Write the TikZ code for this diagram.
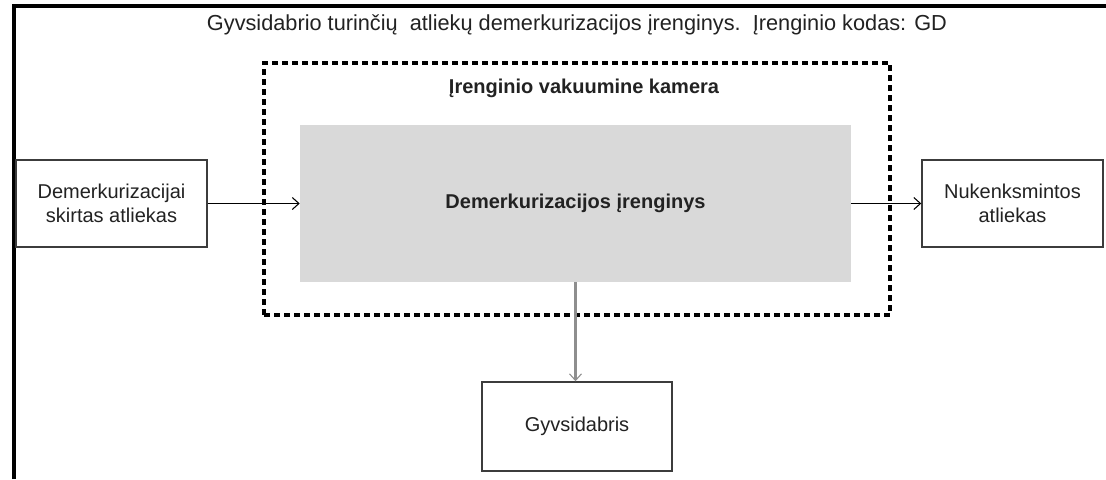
\documentclass[tikz,border=0pt]{standalone}
\usepackage{fontspec}
\setmainfont{Liberation Sans}
\usetikzlibrary{arrows.meta}
\definecolor{txt}{HTML}{222222}
\definecolor{edge}{HTML}{3C3C3C}
\definecolor{fillgray}{HTML}{D9D9D9}
\definecolor{downarrow}{HTML}{8E8E8E}
\tikzset{
  textfont/.style={font=\fontsize{15}{18.5}\selectfont, text=txt},
  boxnode/.style={draw=edge, line width=1.1pt, fill=white, align=center, inner sep=0pt, textfont},
  flow/.style={line width=0.9pt, -{Straight Barb[length=5pt,width=9pt,line width=0.8pt]}},
}
\begin{document}
\begin{tikzpicture}[x=0.75pt, y=-0.75pt]
  \useasboundingbox (0,0) rectangle (1106,479);
  \fill[white] (0,0) rectangle (1106,479);

  % outer frame (left and top edges)
  \coordinate (framebl) at (14,479);
  \coordinate (frametl) at (14,6);
  \coordinate (frametr) at (1106,6);
  \draw[black, line width=2.4pt] (framebl) -- (frametl) -- (frametr);

  % title
  \node[textfont, font=\fontsize{16.3}{19}\selectfont] (title) at (577,25)
    {Gyvsidabrio turinčių\ \ atliekų demerkurizacijos įrenginys.\ \ Įrenginio kodas: GD};

  % vacuum chamber (dotted)
  \node[draw=black, line width=2.3pt, dash pattern=on 4.2pt off 3.3pt,
        minimum width=469.5pt, minimum height=189pt, inner sep=0pt] (chamber) at (577,189) {};
  \node[textfont, font=\bfseries\fontsize{15}{18}\selectfont] (chamberlabel) at (584,88)
    {Įrenginio vakuumine kamera};

  % demercurisation unit
  \node[fill=fillgray, minimum width=413.25pt, minimum height=117.75pt, inner sep=0pt,
        textfont, font=\bfseries\fontsize{15}{18}\selectfont] (unit) at (575.5,203.5)
    {Demerkurizacijos įrenginys};

  % input, output, mercury
  \node[boxnode, minimum width=143.25pt, minimum height=65.25pt] (input) at (111.5,203.5)
    {Demerkurizacijai\\skirtas atliekas};
  \node[boxnode, minimum width=135.75pt, minimum height=65.25pt] (output) at (1012.5,203.5)
    {Nukenksmintos\\atliekas};
  \node[boxnode, minimum width=142.5pt, minimum height=66.75pt] (mercury) at (577,426.5)
    {Gyvsidabris};

  % flows
  \draw[flow, black] (input.east) -- (unit.west);
  \draw[flow, black] (unit.east) -- (output.west);
  \draw[flow, downarrow, line width=1.8pt] (unit.south) -- (unit.south |- mercury.north);
\end{tikzpicture}
\end{document}
